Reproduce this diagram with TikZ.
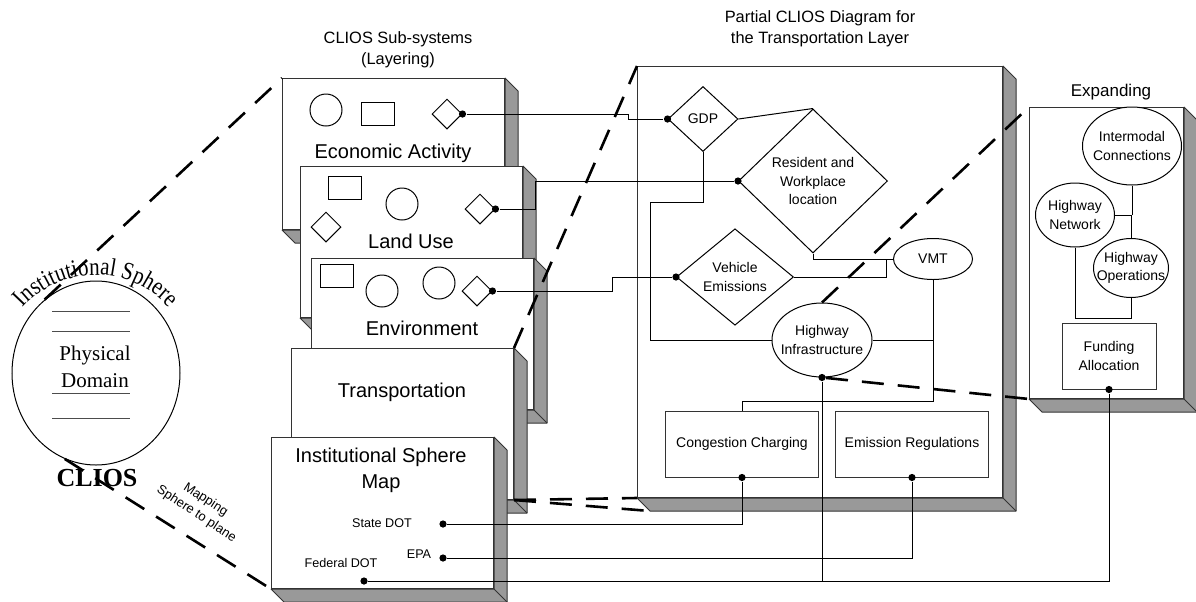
\documentclass[tikz,border=0pt]{standalone}
\usepackage{fontspec}
\setmainfont{Liberation Serif}
\setsansfont{Liberation Sans}
\newfontfamily\arcfont[FakeStretch=0.84]{Liberation Serif}
\usetikzlibrary{shapes.geometric,calc,decorations.text}

\begin{document}
\begin{tikzpicture}[x=0.5pt, y=-0.5pt, line width=0.5pt, font=\sffamily]
\newcommand{\cardoff}{13}
\newcommand{\cardside}[1]{%
  \filldraw[side] (#1.north east) -- ++(\cardoff,\cardoff) -- ($(#1.south east)+(\cardoff,\cardoff)$)
    -- ($(#1.south west)+(\cardoff,\cardoff)$) -- (#1.south west) -- (#1.south east) -- cycle;
  \draw[side] (#1.south east) -- ++(\cardoff,\cardoff);}

\tikzset{ card/.style={draw=black!80, fill=white, anchor=north west, inner sep=0pt,
    minimum width=111pt, minimum height=75.5pt},
  side/.style={draw=black!80, fill=black!40, line join=bevel},
  part/.style={draw, fill=white, inner sep=0pt},
  dia/.style={diamond, draw, fill=white, inner sep=0.5pt, lbl},
  ell/.style={ellipse, draw, fill=white, inner sep=0pt},
  box/.style={draw=black!80, fill=white, inner sep=0pt, lbl},
  dot/.style={circle, fill, inner sep=0pt, minimum size=3.6pt},
  lbl/.style={font=\sffamily\fontsize{7}{9.2}\selectfont, align=center},
  title/.style={font=\sffamily\fontsize{10}{13}\selectfont, align=center},
  caption/.style={font=\sffamily\fontsize{8.2}{10.5}\selectfont, align=center},
  tiny/.style={font=\sffamily\fontsize{6.3}{8}\selectfont, align=center},
  mapline/.style={line width=1.3pt, dash pattern=on 11pt off 7pt}
}

\useasboundingbox (0,0) rectangle (1196,601);

% sphere on the left
\node[ellipse, draw, inner sep=0pt, minimum width=84pt, minimum height=92pt] (sphere) at (96,373) {};
\foreach \y in {311,331,393,418}
  \draw[black!70] (52,\y) -- (130,\y);
\node[font=\rmfamily\fontsize{10.5}{13.5}\selectfont, align=center] (phys) at (95,367) {Physical\\Domain};
\path[decorate, decoration={text along path, text align=center,
    text={|\arcfont\fontsize{12.5}{12.5}\selectfont|Institutional Sphere}}]
  (96,373) ++(200:98) arc[start angle=200, end angle=340, radius=98];
\node[font=\rmfamily\bfseries\fontsize{13}{13}\selectfont] (clios) at (97,478) {CLIOS};
\node[tiny, font=\sffamily\fontsize{6.5}{8.5}\selectfont, rotate=-33] (mapping) at (201,507) {Mapping\\Sphere to plane};

% layered sub-systems
\node[caption] (layers) at (398,50) {CLIOS Sub-systems\\(Layering)};

\node[card] (eco) at (282,78) {};
\cardside{eco}
\node[part, circle, minimum size=16pt] (ecoC) at (326,110) {};
\node[part, minimum width=16.5pt, minimum height=11.5pt] (ecoB) at (378,114) {};
\node[part, diamond, minimum size=15pt] (ecoD) at (447,114) {};
\node[title] (ecoT) at (393,153) {Economic Activity};

\node[card] (land) at (300,166) {};
\cardside{land}
\node[part, minimum width=16.5pt, minimum height=11.5pt] (landB) at (345,188) {};
\node[part, circle, minimum size=16pt] (landC) at (402,204) {};
\node[part, diamond, minimum size=15pt] (landL) at (326,227) {};
\node[part, diamond, minimum size=15pt] (landD) at (480,209) {};
\node[title] (landT) at (411,241) {Land Use};

\node[card] (env) at (311,258) {};
\cardside{env}
\node[part, minimum width=16.5pt, minimum height=11.5pt] (envB) at (337,276) {};
\node[part, circle, minimum size=16pt] (envC) at (382,291) {};
\node[part, circle, minimum size=16pt] (envE) at (439,283) {};
\node[part, diamond, minimum size=15pt] (envD) at (477,291) {};
\node[title] (envT) at (422,328) {Environment};

\node[card] (trans) at (291,348) {};
\cardside{trans}
\node[title] (transT) at (402,392) {Transportation};

\node[card] (inst) at (271,437) {};
\cardside{inst}
\node[title] (instT) at (381,470) {Institutional Sphere\\Map};
\node[tiny] (stateT) at (382,523) {State DOT};
\node[tiny] (epaT) at (419,554) {EPA};
\node[tiny] (fedT) at (341,563) {Federal DOT};
\node[dot] (stateDot) at (443,524) {};
\node[dot] (epaDot) at (443,558) {};
\node[dot] (fedDot) at (364,581) {};

% transportation layer diagram
\node[caption] (diagT) at (820,29) {Partial CLIOS Diagram for\\the Transportation Layer};
\node[card, minimum width=182.5pt, minimum height=215.5pt] (diag) at (637,66) {};
\cardside{diag}
\node[dia, minimum width=35pt, minimum height=32.5pt] (gdp) at (703,119) {GDP};
\node[dia, minimum width=74.5pt, minimum height=72pt] (res) at (813,181) {Resident and\\Workplace\\location};
\node[dia, minimum width=58.5pt, minimum height=47.5pt] (veh) at (735,277) {Vehicle\\Emissions};
\node[ell, minimum width=39.5pt, minimum height=20.5pt, label={[lbl]center:VMT}] (vmt) at (933,259) {};
\node[ell, minimum width=50pt, minimum height=37pt, label={[lbl]center:Highway\\Infrastructure}] (hi) at (822,340) {};
\node[box, minimum width=76.5pt, minimum height=33pt] (cc) at (742,444) {Congestion Charging};
\node[box, minimum width=76.5pt, minimum height=33pt] (er) at (912,444) {Emission Regulations};

% expanded view
\node[caption, font=\sffamily\fontsize{8.5}{10.5}\selectfont] (expT) at (1111,92) {Expanding};
\node[card, minimum width=77pt, minimum height=145.5pt] (expand) at (1029,107) {};
\cardside{expand}
\node[ell, minimum width=49.5pt, minimum height=39pt, label={[lbl]center:Intermodal\\Connections}] (ic) at (1132,146) {};
\node[ell, minimum width=39.5pt, minimum height=32pt, label={[lbl]center:Highway\\Network}] (hn) at (1075,215) {};
\node[ell, minimum width=37.5pt, minimum height=29.5pt, label={[lbl]center:Highway\\Operations}] (ho) at (1131,268) {};
\node[box, minimum width=47pt, minimum height=33pt] (fund) at (1109,356) {Funding\\Allocation};

% dots
\node[dot] (ecoDot) at (ecoD.east) {};
\node[dot] (landDot) at (landD.east) {};
\node[dot] (envDot) at (envD.east) {};
\node[dot] (gdpDot) at (gdp.west) {};
\node[dot] (resDot) at (res.west) {};
\node[dot] (vehDot) at (veh.west) {};
\node[dot] (hiDot) at (hi.south) {};
\node[dot] (ccDot) at (cc.south) {};
\node[dot] (erDot) at (er.south) {};
\node[dot] (fundDot) at (fund.south) {};

% links
\draw (ecoDot) -- (628,114) |- (gdpDot);
\draw (landDot) -- (535,209) |- (resDot);
\draw (envDot) -- (612,291) |- (vehDot);
\draw (gdp.east) -- (res.north);
\draw (gdp.south) |- (650,202) |- (hi.west);
\draw (res.south) |- (vmt.west);
\draw (veh.east) -| ($(vmt.west)+(-7,0)$);
\draw (hi.east) -| (vmt.south);
\draw (vmt.south) -- ++(0,121) -| (cc.north);
\draw (ccDot) |- (stateDot);
\draw (erDot) |- (epaDot);
\draw (hiDot) -- (hiDot |- fedDot);
\draw (fundDot) |- (fedDot);
\draw (ic.south) -- (ic.south |- hn.east);
\draw (hn.east) -| (ho.north);
\draw (hn.south) |- ($(ho.south)+(0,20)$) -- (ho.south);

% mapping lines
\draw[mapline] (sphere.125) -- (eco.north west);
\draw[mapline] (sphere.250) -- (inst.south west);
\draw[mapline] (trans.north east) -- (diag.north west);
\draw[mapline] (trans.south east) -- (diag.south west);
\draw[mapline] (trans.south east) -- ($(diag.south west)+(13,13)$);
\draw[mapline] (hi.north) -- (expand.north west);
\draw[mapline] (hiDot) -- (expand.south west);

\end{tikzpicture}
\end{document}
